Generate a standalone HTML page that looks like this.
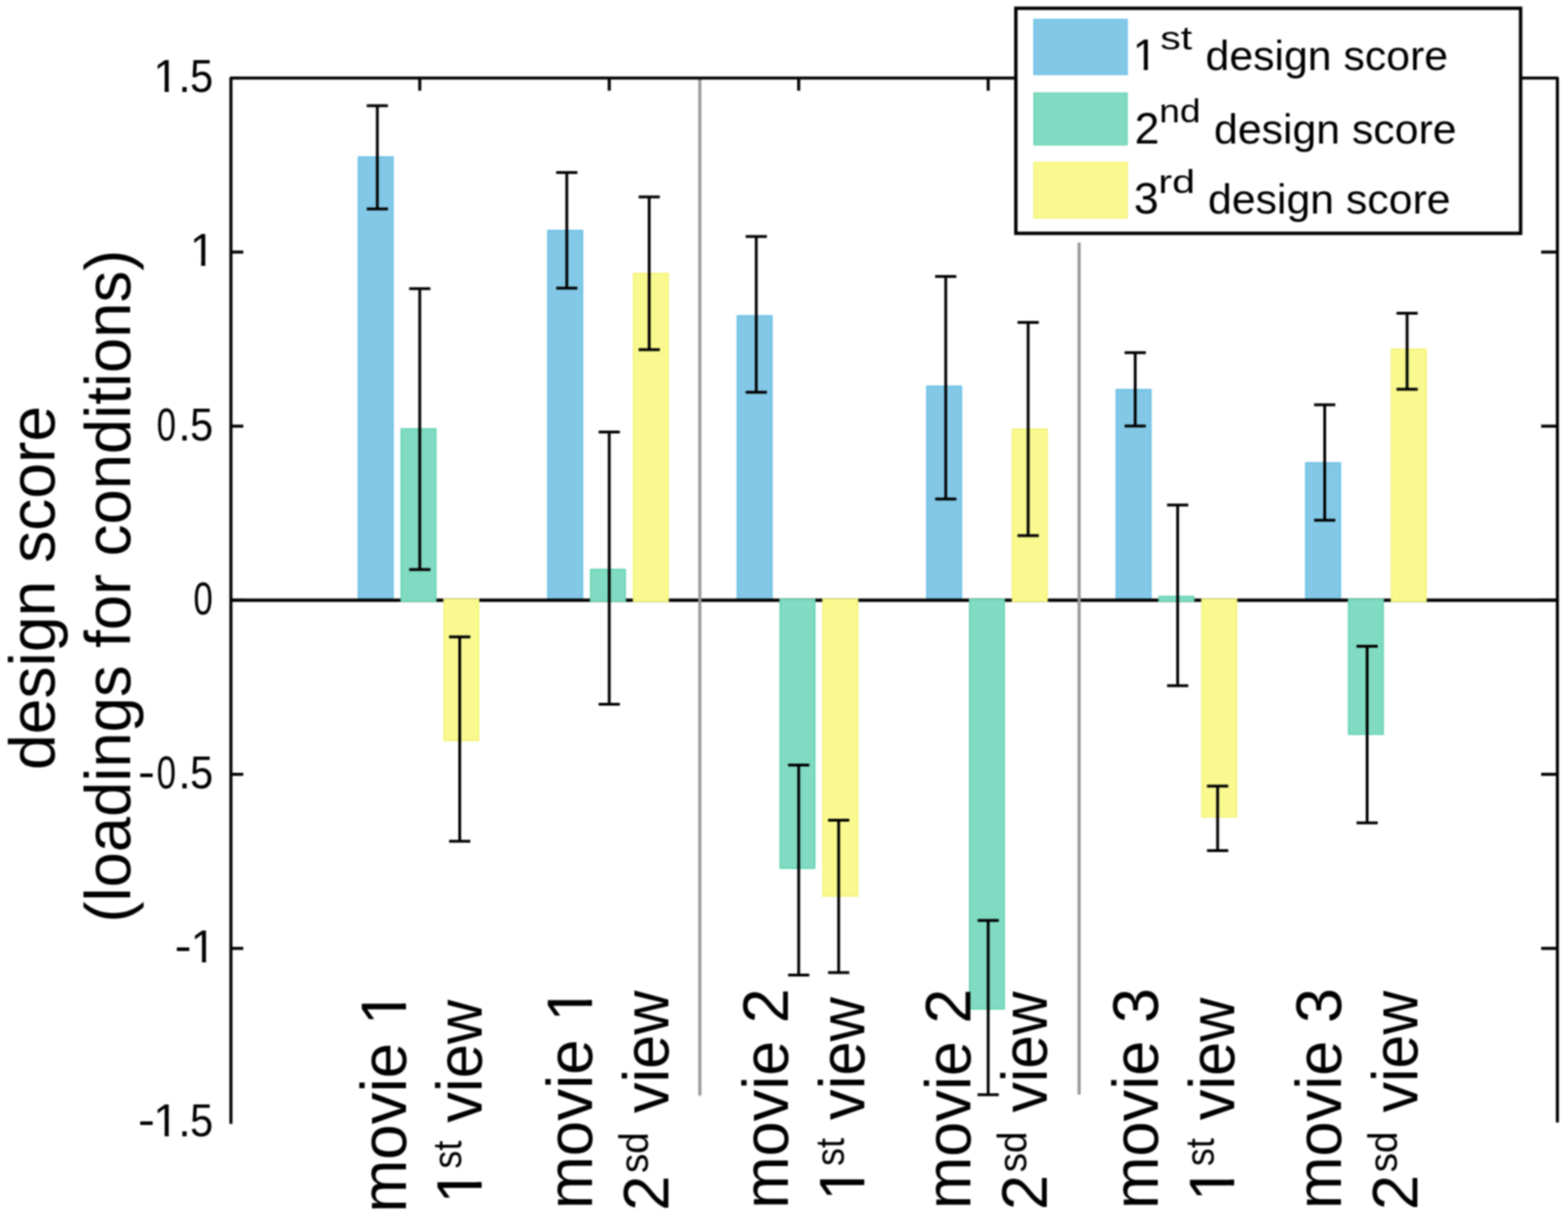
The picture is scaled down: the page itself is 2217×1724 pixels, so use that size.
<!DOCTYPE html><html><head><meta charset="utf-8"><title>design score</title>
<style>html,body{margin:0;padding:0;background:#fff;overflow:hidden;width:2217px;height:1724px;}svg{display:block;filter:blur(0.8px);}text{font-family:'Liberation Sans',sans-serif;fill:#000;}</style></head><body>
<svg width="2217" height="1724" viewBox="0 0 2217 1724">
<rect x="0" y="0" width="2217" height="1724" fill="#fff"/>
<rect x="506.9" y="222.2" width="48.6" height="625.5" fill="#83c9e7" stroke="#6ec1e6" stroke-width="2.4"/>
<rect x="774.8" y="326.2" width="48.6" height="521.5" fill="#83c9e7" stroke="#6ec1e6" stroke-width="2.4"/>
<rect x="1042.7" y="446.9" width="48.6" height="400.8" fill="#83c9e7" stroke="#6ec1e6" stroke-width="2.4"/>
<rect x="1310.6" y="546.4" width="48.6" height="301.3" fill="#83c9e7" stroke="#6ec1e6" stroke-width="2.4"/>
<rect x="1578.5" y="551.2" width="48.6" height="296.5" fill="#83c9e7" stroke="#6ec1e6" stroke-width="2.4"/>
<rect x="1846.4" y="654.8" width="48.6" height="192.9" fill="#83c9e7" stroke="#6ec1e6" stroke-width="2.4"/>
<line x1="326.5" y1="848.9" x2="2202.0" y2="848.9" stroke="#000" stroke-width="4.6"/>
<rect x="567.4" y="606.7" width="48.6" height="243.4" fill="#80dbc2" stroke="#6bd5b5" stroke-width="2.4"/>
<rect x="835.3" y="805.5" width="48.6" height="44.6" fill="#80dbc2" stroke="#6bd5b5" stroke-width="2.4"/>
<rect x="1103.2" y="847.7" width="48.6" height="380.1" fill="#80dbc2" stroke="#6bd5b5" stroke-width="2.4"/>
<rect x="1371.1" y="847.7" width="48.6" height="579.1" fill="#80dbc2" stroke="#6bd5b5" stroke-width="2.4"/>
<rect x="1639.0" y="843.7" width="48.6" height="6.4" fill="#80dbc2" stroke="#6bd5b5" stroke-width="2.4"/>
<rect x="1906.9" y="847.7" width="48.6" height="190.6" fill="#80dbc2" stroke="#6bd5b5" stroke-width="2.4"/>
<rect x="628.0" y="847.7" width="48.6" height="199.4" fill="#f9f98f" stroke="#f4f47e" stroke-width="2.4"/>
<rect x="895.9" y="386.9" width="48.6" height="463.2" fill="#f9f98f" stroke="#f4f47e" stroke-width="2.4"/>
<rect x="1163.8" y="847.7" width="48.6" height="419.4" fill="#f9f98f" stroke="#f4f47e" stroke-width="2.4"/>
<rect x="1431.7" y="607.2" width="48.6" height="242.9" fill="#f9f98f" stroke="#f4f47e" stroke-width="2.4"/>
<rect x="1699.6" y="847.7" width="48.6" height="307.5" fill="#f9f98f" stroke="#f4f47e" stroke-width="2.4"/>
<rect x="1967.5" y="494.1" width="48.6" height="356.0" fill="#f9f98f" stroke="#f4f47e" stroke-width="2.4"/>
<line x1="989.5" y1="112" x2="989.5" y2="1549.5" stroke="#999" stroke-width="4.4"/>
<line x1="1525.8" y1="343" x2="1525.8" y2="1548" stroke="#999" stroke-width="4.4"/>
<path d="M533.5 149.4V295.6M518.5 149.4H548.5M518.5 295.6H548.5" stroke="#000" stroke-width="4.0" fill="none"/>
<path d="M593.5 408.3V805.5M578.5 408.3H608.5M578.5 805.5H608.5" stroke="#000" stroke-width="4.0" fill="none"/>
<path d="M650.0 900.7V1189.7M635.0 900.7H665.0M635.0 1189.7H665.0" stroke="#000" stroke-width="4.0" fill="none"/>
<path d="M801.4 244.0V407.6M786.4 244.0H816.4M786.4 407.6H816.4" stroke="#000" stroke-width="4.0" fill="none"/>
<path d="M861.4 611.0V996.0M846.4 611.0H876.4M846.4 996.0H876.4" stroke="#000" stroke-width="4.0" fill="none"/>
<path d="M917.9 278.6V494.6M902.9 278.6H932.9M902.9 494.6H932.9" stroke="#000" stroke-width="4.0" fill="none"/>
<path d="M1069.3 334.5V554.8M1054.3 334.5H1084.3M1054.3 554.8H1084.3" stroke="#000" stroke-width="4.0" fill="none"/>
<path d="M1129.3 1081.9V1379.0M1114.3 1081.9H1144.3M1114.3 1379.0H1144.3" stroke="#000" stroke-width="4.0" fill="none"/>
<path d="M1185.8 1160.0V1375.5M1170.8 1160.0H1200.8M1170.8 1375.5H1200.8" stroke="#000" stroke-width="4.0" fill="none"/>
<path d="M1337.2 391.0V705.7M1322.2 391.0H1352.2M1322.2 705.7H1352.2" stroke="#000" stroke-width="4.0" fill="none"/>
<path d="M1397.2 1301.7V1548.2M1382.2 1301.7H1412.2M1382.2 1548.2H1412.2" stroke="#000" stroke-width="4.0" fill="none"/>
<path d="M1453.7 456.0V757.4M1438.7 456.0H1468.7M1438.7 757.4H1468.7" stroke="#000" stroke-width="4.0" fill="none"/>
<path d="M1605.1 498.8V602.4M1590.1 498.8H1620.1M1590.1 602.4H1620.1" stroke="#000" stroke-width="4.0" fill="none"/>
<path d="M1665.1 714.3V969.8M1650.1 714.3H1680.1M1650.1 969.8H1680.1" stroke="#000" stroke-width="4.0" fill="none"/>
<path d="M1721.6 1111.7V1202.9M1706.6 1111.7H1736.6M1706.6 1202.9H1736.6" stroke="#000" stroke-width="4.0" fill="none"/>
<path d="M1873.0 572.6V735.7M1858.0 572.6H1888.0M1858.0 735.7H1888.0" stroke="#000" stroke-width="4.0" fill="none"/>
<path d="M1933.0 914.0V1163.8M1918.0 914.0H1948.0M1918.0 1163.8H1948.0" stroke="#000" stroke-width="4.0" fill="none"/>
<path d="M1989.5 442.9V550.5M1974.5 442.9H2004.5M1974.5 550.5H2004.5" stroke="#000" stroke-width="4.0" fill="none"/>
<path d="M326.5 1589.5V110.3H2202.0V1587.5" stroke="#000" stroke-width="4.3" fill="none" stroke-linejoin="round"/>
<line x1="326.5" y1="356.5" x2="344.0" y2="356.5" stroke="#000" stroke-width="4.3"/>
<line x1="2202.0" y1="356.5" x2="2179.0" y2="356.5" stroke="#000" stroke-width="4.3"/>
<line x1="326.5" y1="602.7" x2="344.0" y2="602.7" stroke="#000" stroke-width="4.3"/>
<line x1="2202.0" y1="602.7" x2="2179.0" y2="602.7" stroke="#000" stroke-width="4.3"/>
<line x1="326.5" y1="848.9" x2="344.0" y2="848.9" stroke="#000" stroke-width="4.3"/>
<line x1="2202.0" y1="848.9" x2="2179.0" y2="848.9" stroke="#000" stroke-width="4.3"/>
<line x1="326.5" y1="1095.1" x2="344.0" y2="1095.1" stroke="#000" stroke-width="4.3"/>
<line x1="2202.0" y1="1095.1" x2="2179.0" y2="1095.1" stroke="#000" stroke-width="4.3"/>
<line x1="326.5" y1="1341.3" x2="344.0" y2="1341.3" stroke="#000" stroke-width="4.3"/>
<line x1="2202.0" y1="1341.3" x2="2179.0" y2="1341.3" stroke="#000" stroke-width="4.3"/>
<line x1="593.5" y1="110.3" x2="593.5" y2="128.3" stroke="#000" stroke-width="4.3"/>
<line x1="861.4" y1="110.3" x2="861.4" y2="128.3" stroke="#000" stroke-width="4.3"/>
<line x1="1129.3" y1="110.3" x2="1129.3" y2="128.3" stroke="#000" stroke-width="4.3"/>
<line x1="1397.2" y1="110.3" x2="1397.2" y2="128.3" stroke="#000" stroke-width="4.3"/>
<line x1="1665.1" y1="110.3" x2="1665.1" y2="128.3" stroke="#000" stroke-width="4.3"/>
<line x1="1933.0" y1="110.3" x2="1933.0" y2="128.3" stroke="#000" stroke-width="4.3"/>
<clipPath id="f1" clipPathUnits="userSpaceOnUse"><rect x="-5000" y="-5000" width="10000" height="5124.24"/><rect x="-5000" y="131.70" width="10000" height="5000"/><rect x="-5000" y="-5000" width="5220.67" height="10000"/><rect x="250.25" y="-5000" width="5000" height="10000"/><rect x="232.77" y="-5000" width="5.90" height="10000"/></clipPath>
<text font-size="64" clip-path="url(#f1)"><tspan x="216.80" y="130.20">1</tspan><tspan x="252.01" y="130.20">.</tspan><tspan x="268.68" y="130.20" textLength="32.64" lengthAdjust="spacingAndGlyphs">5</tspan></text>
<clipPath id="f2" clipPathUnits="userSpaceOnUse"><rect x="-5000" y="-5000" width="10000" height="5370.44"/><rect x="-5000" y="377.90" width="10000" height="5000"/><rect x="-5000" y="-5000" width="5272.27" height="10000"/><rect x="301.85" y="-5000" width="5000" height="10000"/><rect x="284.37" y="-5000" width="5.90" height="10000"/></clipPath>
<text font-size="64" clip-path="url(#f2)"><tspan x="268.40" y="376.40">1</tspan></text>
<text font-size="64"><tspan x="221.60" y="622.60" textLength="27.40" lengthAdjust="spacingAndGlyphs">0</tspan><tspan x="252.01" y="622.60">.</tspan><tspan x="268.68" y="622.60" textLength="32.64" lengthAdjust="spacingAndGlyphs">5</tspan></text>
<text font-size="64"><tspan x="273.60" y="868.80" textLength="27.40" lengthAdjust="spacingAndGlyphs">0</tspan></text>
<text font-size="64"><tspan x="194.96" y="1113.60" textLength="24.08" lengthAdjust="spacingAndGlyphs">-</tspan><tspan x="221.60" y="1115.00" textLength="27.40" lengthAdjust="spacingAndGlyphs">0</tspan><tspan x="252.01" y="1115.00">.</tspan><tspan x="268.68" y="1115.00" textLength="32.64" lengthAdjust="spacingAndGlyphs">5</tspan></text>
<clipPath id="f3" clipPathUnits="userSpaceOnUse"><rect x="-5000" y="-5000" width="10000" height="6355.24"/><rect x="-5000" y="1362.70" width="10000" height="5000"/><rect x="-5000" y="-5000" width="5273.37" height="10000"/><rect x="302.95" y="-5000" width="5000" height="10000"/><rect x="285.47" y="-5000" width="5.90" height="10000"/></clipPath>
<text font-size="64" clip-path="url(#f3)"><tspan x="246.76" y="1359.80" textLength="24.08" lengthAdjust="spacingAndGlyphs">-</tspan><tspan x="269.50" y="1361.20">1</tspan></text>
<clipPath id="f4" clipPathUnits="userSpaceOnUse"><rect x="-5000" y="-5000" width="10000" height="6601.44"/><rect x="-5000" y="1608.90" width="10000" height="5000"/><rect x="-5000" y="-5000" width="5220.67" height="10000"/><rect x="250.25" y="-5000" width="5000" height="10000"/><rect x="232.77" y="-5000" width="5.90" height="10000"/></clipPath>
<text font-size="64" clip-path="url(#f4)"><tspan x="194.96" y="1606.00" textLength="24.08" lengthAdjust="spacingAndGlyphs">-</tspan><tspan x="216.80" y="1607.40">1</tspan><tspan x="252.01" y="1607.40">.</tspan><tspan x="268.68" y="1607.40" textLength="32.64" lengthAdjust="spacingAndGlyphs">5</tspan></text>
<text transform="translate(76.7 831.5) rotate(-90) scale(1.009 1)" font-size="90" text-anchor="middle">design score</text>
<text transform="translate(183.6 829) rotate(-90) scale(0.996 1)" font-size="90" text-anchor="middle">(loadings for conditions)</text>
<clipPath id="f5" clipPathUnits="userSpaceOnUse"><rect x="-5000" y="-5000" width="10000" height="4991.99"/><rect x="-5000" y="1.50" width="10000" height="5000"/><rect x="-5000" y="-5000" width="5270.89" height="10000"/><rect x="311.68" y="-5000" width="5000" height="10000"/><rect x="287.54" y="-5000" width="8.21" height="10000"/></clipPath>
<text transform="translate(574.0 1715.1) rotate(-90) scale(1.000 1)" font-size="90" clip-path="url(#f5)">movie 1</text>
<clipPath id="f6" clipPathUnits="userSpaceOnUse"><rect x="-5000" y="-5000" width="10000" height="4991.99"/><rect x="-5000" y="1.50" width="10000" height="5000"/><rect x="-5000" y="-5000" width="5005.84" height="10000"/><rect x="46.63" y="-5000" width="5000" height="10000"/><rect x="22.49" y="-5000" width="8.21" height="10000"/></clipPath>
<text transform="translate(680.5 1702.5) rotate(-90)" font-size="90" clip-path="url(#f6)">1<tspan x="49.70" y="-29" font-size="57" textLength="39.6" lengthAdjust="spacingAndGlyphs">st</tspan><tspan x="90.55" y="0" textLength="197.95" lengthAdjust="spacingAndGlyphs"> view</tspan></text>
<clipPath id="f7" clipPathUnits="userSpaceOnUse"><rect x="-5000" y="-5000" width="10000" height="4991.99"/><rect x="-5000" y="1.50" width="10000" height="5000"/><rect x="-5000" y="-5000" width="5270.89" height="10000"/><rect x="311.68" y="-5000" width="5000" height="10000"/><rect x="287.54" y="-5000" width="8.21" height="10000"/></clipPath>
<text transform="translate(836.9 1710.1) rotate(-90) scale(1.000 1)" font-size="90" clip-path="url(#f7)">movie 1</text>
<text transform="translate(944.5 1712.4) rotate(-90)" font-size="90">2<tspan x="53.40" y="-29" font-size="57" textLength="57.8" lengthAdjust="spacingAndGlyphs">sd</tspan><tspan x="114.12" y="0" textLength="197.38" lengthAdjust="spacingAndGlyphs"> view</tspan></text>
<text transform="translate(1113.5 1709.6) rotate(-90) scale(0.990 1)" font-size="90">movie 2</text>
<clipPath id="f8" clipPathUnits="userSpaceOnUse"><rect x="-5000" y="-5000" width="10000" height="4991.99"/><rect x="-5000" y="1.50" width="10000" height="5000"/><rect x="-5000" y="-5000" width="5005.84" height="10000"/><rect x="46.63" y="-5000" width="5000" height="10000"/><rect x="22.49" y="-5000" width="8.21" height="10000"/></clipPath>
<text transform="translate(1221.9 1698.6) rotate(-90)" font-size="90" clip-path="url(#f8)">1<tspan x="49.70" y="-29" font-size="57" textLength="39.6" lengthAdjust="spacingAndGlyphs">st</tspan><tspan x="90.56" y="0" textLength="197.84" lengthAdjust="spacingAndGlyphs"> view</tspan></text>
<text transform="translate(1371.8 1710.1) rotate(-90) scale(0.990 1)" font-size="90">movie 2</text>
<text transform="translate(1479.5 1711.5) rotate(-90)" font-size="90">2<tspan x="53.40" y="-29" font-size="57" textLength="57.8" lengthAdjust="spacingAndGlyphs">sd</tspan><tspan x="114.43" y="0" textLength="194.87" lengthAdjust="spacingAndGlyphs"> view</tspan></text>
<text transform="translate(1636.9 1710.1) rotate(-90) scale(0.993 1)" font-size="90">movie 3</text>
<clipPath id="f9" clipPathUnits="userSpaceOnUse"><rect x="-5000" y="-5000" width="10000" height="4991.99"/><rect x="-5000" y="1.50" width="10000" height="5000"/><rect x="-5000" y="-5000" width="5005.84" height="10000"/><rect x="46.63" y="-5000" width="5000" height="10000"/><rect x="22.49" y="-5000" width="8.21" height="10000"/></clipPath>
<text transform="translate(1744.5 1699.0) rotate(-90)" font-size="90" clip-path="url(#f9)">1<tspan x="49.70" y="-29" font-size="57" textLength="39.6" lengthAdjust="spacingAndGlyphs">st</tspan><tspan x="90.58" y="0" textLength="197.72" lengthAdjust="spacingAndGlyphs"> view</tspan></text>
<text transform="translate(1896.1 1710.1) rotate(-90) scale(0.993 1)" font-size="90">movie 3</text>
<text transform="translate(2003.6 1711.5) rotate(-90)" font-size="90">2<tspan x="53.40" y="-29" font-size="57" textLength="57.8" lengthAdjust="spacingAndGlyphs">sd</tspan><tspan x="114.29" y="0" textLength="196.01" lengthAdjust="spacingAndGlyphs"> view</tspan></text>
<rect x="1436.3" y="11.7" width="713.7" height="318.3" fill="#fff" stroke="#000" stroke-width="4.8"/>
<rect x="1462.0" y="27.6" width="131.6" height="77.6" fill="#83c9e7" stroke="#6ec1e6" stroke-width="2"/>
<rect x="1462.0" y="131.7" width="131.6" height="73.0" fill="#80dbc2" stroke="#6bd5b5" stroke-width="2"/>
<rect x="1462.0" y="229.8" width="131.6" height="78.5" fill="#f9f98f" stroke="#f4f47e" stroke-width="2"/>
<clipPath id="f10" clipPathUnits="userSpaceOnUse"><rect x="-5000" y="-5000" width="10000" height="5092.62"/><rect x="-5000" y="100.00" width="10000" height="5000"/><rect x="-5000" y="-5000" width="6605.29" height="10000"/><rect x="1634.44" y="-5000" width="5000" height="10000"/><rect x="1617.21" y="-5000" width="5.81" height="10000"/></clipPath>
<text font-size="63" clip-path="url(#f10)"><tspan x="1601.5" y="98.5">1</tspan><tspan x="1640.5" y="70.0" font-size="47" textLength="45.2" lengthAdjust="spacingAndGlyphs">st</tspan><tspan x="1687.69" y="98.5" font-size="60" textLength="359.81" lengthAdjust="spacingAndGlyphs"> design score</tspan></text>
<text font-size="63"><tspan x="1604.3" y="203.0">2</tspan><tspan x="1638.9" y="172.6" font-size="47" textLength="58.6" lengthAdjust="spacingAndGlyphs">nd</tspan><tspan x="1699.69" y="203.0" font-size="60" textLength="359.81" lengthAdjust="spacingAndGlyphs"> design score</tspan></text>
<text font-size="63"><tspan x="1603.2" y="301.5">3</tspan><tspan x="1637.8" y="273.0" font-size="47" textLength="52.0" lengthAdjust="spacingAndGlyphs">rd</tspan><tspan x="1691.19" y="301.5" font-size="60" textLength="359.81" lengthAdjust="spacingAndGlyphs"> design score</tspan></text>
</svg></body></html>
